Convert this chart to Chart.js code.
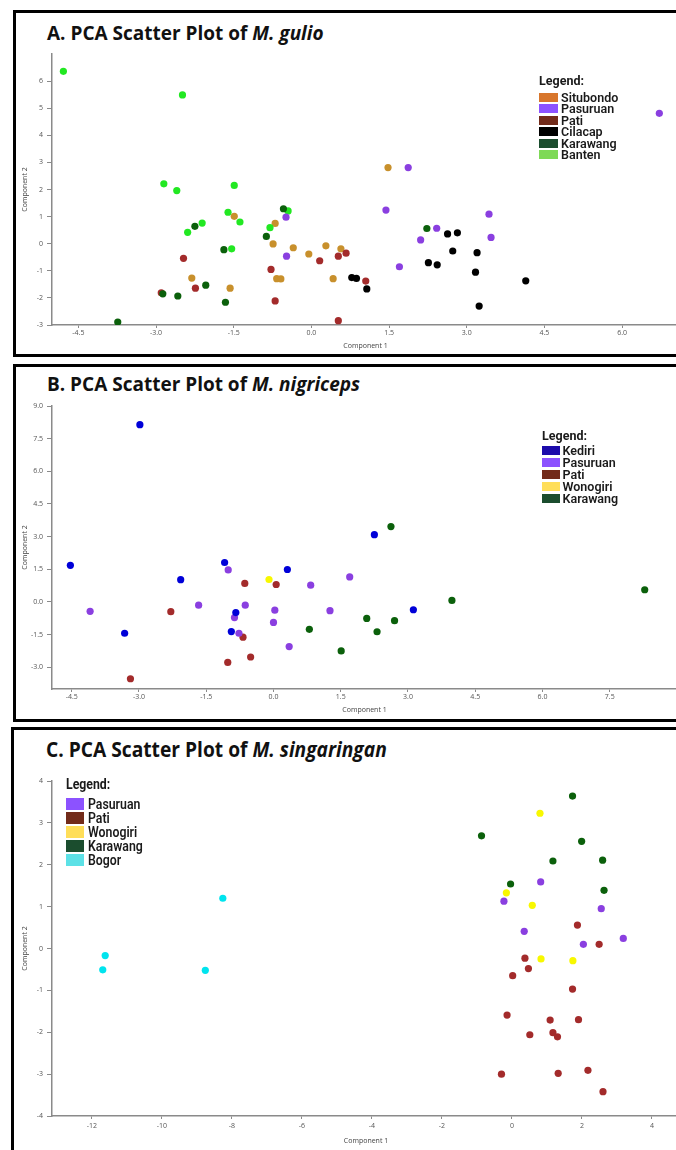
<!DOCTYPE html>
<html><head><meta charset="utf-8">
<script src="https://cdn.jsdelivr.net/npm/chart.js@4.4.1/dist/chart.umd.min.js"></script>
<style>
html,body{margin:0;padding:0;background:#fff;}
body{width:676px;height:1150px;overflow:hidden;position:relative;}
.box{position:absolute;border:3px solid #000;box-sizing:border-box;width:740px;}
.title{position:absolute;font-family:"Open Sans",sans-serif;font-weight:700;color:#111;white-space:nowrap;line-height:1;}
.title i{font-style:italic;}
canvas{position:absolute;}
.legend{position:absolute;font-family:Roboto,sans-serif;color:#1a1a1a;}
.legend .hd{position:absolute;left:0;font-weight:700;white-space:nowrap;line-height:1;transform-origin:left center;}
.legend .row{position:absolute;left:0;display:flex;align-items:center;white-space:nowrap;}
.legend .sw{display:inline-block;flex:none;}
.legend .tx{display:inline-block;transform-origin:left center;}
</style></head>
<body>
<div class="box" style="left:13px;top:10px;height:347px;"></div>
<div class="box" style="left:13px;top:364px;height:358px;"></div>
<div class="box" style="left:11px;top:727px;height:500px;"></div>

<div class="title" style="left:47px;top:24px;font-size:19px;">A. PCA Scatter Plot of <i>M. gulio</i></div>
<div class="title" style="left:47px;top:375px;font-size:19px;">B. PCA Scatter Plot of <i>M. nigriceps</i></div>
<div class="title" style="left:46px;top:739px;font-size:19.6px;transform:scale(0.98,1.08);transform-origin:left top;">C. PCA Scatter Plot of <i>M. singaringan</i></div>

<canvas id="cA" width="689" height="306" style="left:0;top:44px;"></canvas>
<canvas id="cB" width="687" height="318" style="left:0;top:396px;"></canvas>
<canvas id="cC" width="690" height="374" style="left:0;top:771px;"></canvas>

<div id="lgA" class="legend"></div>
<div id="lgB" class="legend"></div>
<div id="lgC" class="legend"></div>

<script>
// ---------- DATA ----------
// A. M. gulio  [Component 1, Component 2]
const gulioSitubondo = [[-1.49,1.01],[-2.31,-1.27],[-1.57,-1.64],[-0.70,0.75],[-0.74,-0.01],[-0.67,-1.29],[-0.59,-1.30],[-0.35,-0.15],[-0.05,-0.38],[0.28,-0.08],[0.42,-1.29],[0.57,-0.19],[1.48,2.81]];
const gulioPasuruan = [[-0.49,0.98],[-0.48,-0.46],[6.72,4.81],[1.87,2.81],[1.44,1.24],[3.43,1.09],[2.42,0.57],[2.11,0.14],[3.47,0.23],[1.70,-0.85]];
const gulioPati = [[-2.47,-0.54],[-2.24,-1.64],[-0.78,-0.95],[-0.70,-2.11],[0.16,-0.63],[0.52,-0.46],[0.52,-2.84],[0.67,-0.35],[1.05,-1.38],[-2.90,-1.81]];
const gulioCilacap = [[0.78,-1.25],[0.87,-1.28],[1.07,-1.67],[2.63,0.36],[2.82,0.40],[2.73,-0.27],[3.20,-0.33],[2.26,-0.70],[2.43,-0.78],[3.17,-1.05],[4.14,-1.37],[3.24,-2.30]];
const gulioKarawang = [[-2.25,0.64],[-1.69,-0.22],[-2.04,-1.53],[-2.58,-1.93],[-2.87,-1.85],[-1.66,-2.16],[-3.74,-2.89],[-0.87,0.27],[-0.54,1.29],[2.23,0.56]];
const gulioBanten = [[-4.79,6.36],[-2.49,5.49],[-2.85,2.21],[-2.60,1.96],[-1.49,2.15],[-1.61,1.16],[-1.38,0.80],[-2.11,0.76],[-2.39,0.42],[-1.54,-0.19],[-0.80,0.59],[-0.45,1.21]];
const gulioXTicks = [-4.5,-3.0,-1.5,0.0,1.5,3.0,4.5,6.0];
const gulioYTicks = [-3,-2,-1,0,1,2,3,4,5,6];
const gulioLegend = ["Situbondo","Pasuruan","Pati","Cilacap","Karawang","Banten"];

// B. M. nigriceps
const nigKediri = [[-2.98,8.14],[-4.53,1.68],[-2.07,1.02],[-3.32,-1.44],[-1.09,1.81],[0.31,1.49],[-0.84,-0.49],[-0.94,-1.36],[2.25,3.09],[3.12,-0.36]];
const nigPasuruan = [[-4.09,-0.43],[-1.67,-0.15],[-1.01,1.47],[-0.63,-0.15],[-0.87,-0.72],[-0.77,-1.44],[0.03,-0.38],[0.00,-0.94],[0.35,-2.05],[0.83,0.77],[1.26,-0.40],[1.70,1.15]];
const nigPati = [[-3.19,-3.53],[-2.29,-0.45],[-0.64,0.85],[0.06,0.80],[-0.68,-1.62],[-0.51,-2.53],[-1.02,-2.78]];
const nigWonogiri = [[-0.10,1.03]];
const nigKarawang = [[0.80,-1.26],[1.51,-2.25],[2.62,3.46],[2.08,-0.76],[2.70,-0.86],[2.31,-1.37],[3.98,0.07],[8.28,0.56]];
const nigXTicks = [-4.5,-3.0,-1.5,0.0,1.5,3.0,4.5,6.0,7.5];
const nigYTicks = [-3.0,-1.5,0.0,1.5,3.0,4.5,6.0,7.5,9.0];
const nigLegend = ["Kediri","Pasuruan","Pati","Wonogiri","Karawang"];

// C. M. singaringan
const singPasuruan = [[0.82,1.59],[-0.23,1.13],[2.55,0.95],[0.35,0.41],[3.18,0.24],[2.04,0.10]];
const singPati = [[1.87,0.56],[2.49,0.10],[0.37,-0.23],[0.47,-0.48],[0.02,-0.65],[1.73,-0.97],[-0.14,-1.59],[1.09,-1.71],[1.90,-1.70],[0.51,-2.06],[1.17,-2.01],[1.30,-2.11],[-0.30,-3.00],[1.32,-2.98],[2.17,-2.91],[2.60,-3.42]];
const singWonogiri = [[0.80,3.23],[-0.16,1.33],[0.58,1.03],[0.83,-0.25],[1.74,-0.29]];
const singKarawang = [[1.73,3.64],[-0.87,2.69],[1.99,2.56],[1.17,2.09],[2.59,2.11],[-0.04,1.54],[2.63,1.39]];
const singBogor = [[-8.26,1.20],[-11.62,-0.17],[-11.69,-0.51],[-8.76,-0.52]];
const singXTicks = [-12,-10,-8,-6,-4,-2,0,2,4];
const singYTicks = [-4,-3,-2,-1,0,1,2,3,4];
const singLegend = ["Pasuruan","Pati","Wonogiri","Karawang","Bogor"];

// ---------- STYLE ----------
const pointColor = {
  Situbondo:'#c8902c', Pasuruan:'#8a3fe0', Pati:'#a32b2b', Cilacap:'#000000',
  Karawang:'#0b600b', Banten:'#22e822', Kediri:'#0000d8', Wonogiri:'#f8f800', Bogor:'#00e4ee'
};
const swatchColor = {
  Situbondo:'#d8762c', Pasuruan:'#8c52ff', Pati:'#722b1a', Cilacap:'#000000',
  Karawang:'#1b4d2e', Banten:'#7ed957', Kediri:'#1c0bab', Wonogiri:'#ffde59', Bogor:'#5ce1e6'
};

function ds(name, pairs){
  return {label:name, data:pairs.map(p=>({x:p[0],y:p[1]})),
    backgroundColor:pointColor[name], borderWidth:0, pointRadius:3.6, pointHoverRadius:3.6};
}

function makeChart(id, datasets, g){
  const axisCol = '#8a8a8a';
  const tickFont = {family:'"Open Sans", sans-serif', size:7};
  new Chart(document.getElementById(id), {
    type:'scatter',
    data:{datasets},
    options:{
      responsive:false, animation:false, devicePixelRatio:1,
      layout:{padding:{top:10,right:10,left:0,bottom:0}},
      plugins:{legend:{display:false}, tooltip:{enabled:false}},
      events:[],
      scales:{
        x:{type:'linear', position:'bottom', min:g.xmin, max:g.xmax,
          afterBuildTicks:s=>{s.ticks = g.xt.map(v=>({value:v}));},
          afterFit:s=>{s.height = g.xh;},
          grid:{display:true, drawOnChartArea:false, drawTicks:true, tickLength:3, color:axisCol, lineWidth:1},
          border:{display:true, color:axisCol, width:1.5},
          ticks:{autoSkip:false, maxRotation:0, padding:g.xpad, color:'#555', font:tickFont, callback:g.xf},
          title:{display:true, text:'Component 1', color:'#444', font:{family:'"Open Sans", sans-serif', size:7}, padding:0}
        },
        y:{type:'linear', position:'left', min:g.ymin, max:g.ymax,
          afterBuildTicks:s=>{s.ticks = g.yt.map(v=>({value:v}));},
          afterFit:s=>{s.width = 52;},
          grid:{display:true, drawOnChartArea:false, drawTicks:true, tickLength:5, color:axisCol, lineWidth:1},
          border:{display:true, color:axisCol, width:1.5},
          ticks:{autoSkip:false, padding:4, color:'#555', font:tickFont, callback:g.yf},
          title:{display:true, text:'Component 2', color:'#444', font:{family:'"Open Sans", sans-serif', size:7}, padding:{top:20.5,bottom:0}}
        }
      }
    }
  });
}

function legend(id, names, g){
  const el = document.getElementById(id);
  el.style.left = g.left+'px'; el.style.top = '0px';
  const hd = document.createElement('div');
  hd.className='hd'; hd.textContent='Legend:';
  hd.style.fontSize = g.hfs+'px'; hd.style.top = (g.htop)+'px';
  if (g.sx) hd.style.transform = 'scaleX('+g.sx+')';
  el.appendChild(hd);
  names.forEach((n,i)=>{
    const r = document.createElement('div'); r.className='row';
    r.style.top = (g.rtop + i*g.rstep)+'px'; r.style.height = g.sh+'px';
    const sw = document.createElement('span'); sw.className='sw';
    sw.style.width = g.sw+'px'; sw.style.height = g.sh+'px'; sw.style.background = swatchColor[n];
    const t = document.createElement('span'); t.className='tx'; t.textContent = n;
    t.style.marginLeft = g.gap+'px'; t.style.fontSize = g.fs+'px'; t.style.fontWeight = '600';
    t.style.lineHeight = g.sh+'px';
    if (g.sx) t.style.transform = 'scaleX('+g.sx+')';
    r.appendChild(sw); r.appendChild(t); el.appendChild(r);
  });
}

const f1 = v=>Number(v).toFixed(1);
const f0 = v=>String(v);

makeChart('cA', [
  ds('Cilacap',gulioCilacap), ds('Karawang',gulioKarawang), ds('Pasuruan',gulioPasuruan),
  ds('Banten',gulioBanten), ds('Pati',gulioPati), ds('Situbondo',gulioSitubondo)
], {xmin:-5.01, xmax:7.10, ymin:-3, ymax:7, xt:gulioXTicks, yt:gulioYTicks, xh:25, xpad:1, xf:f1, yf:f0});

makeChart('cB', [
  ds('Kediri',nigKediri), ds('Wonogiri',nigWonogiri), ds('Karawang',nigKarawang),
  ds('Pasuruan',nigPasuruan), ds('Pati',nigPati)
], {xmin:-4.94, xmax:9.0, ymin:-4, ymax:9, xt:nigXTicks, yt:nigYTicks, xh:25, xpad:1, xf:f1, yf:f1});

makeChart('cC', [
  ds('Pasuruan',singPasuruan), ds('Wonogiri',singWonogiri), ds('Karawang',singKarawang),
  ds('Pati',singPati), ds('Bogor',singBogor)
], {xmin:-13.14, xmax:4.80, ymin:-4, ymax:4, xt:singXTicks, yt:singYTicks, xh:29, xpad:3, xf:f0, yf:f0});

legend('lgA', gulioLegend, {left:539, hfs:12.5, htop:75, rtop:92.8, rstep:11.45, sw:19, sh:9, gap:3, fs:12.5});
legend('lgB', nigLegend, {left:542, hfs:12.5, htop:429.5, rtop:446, rstep:12, sw:17.5, sh:9.3, gap:3, fs:12.5});
legend('lgC', singLegend, {left:66, hfs:15, htop:777, rtop:797.5, rstep:14.2, sw:18, sh:12, gap:3.5, fs:15, sx:0.82});
</script>
</body></html>
